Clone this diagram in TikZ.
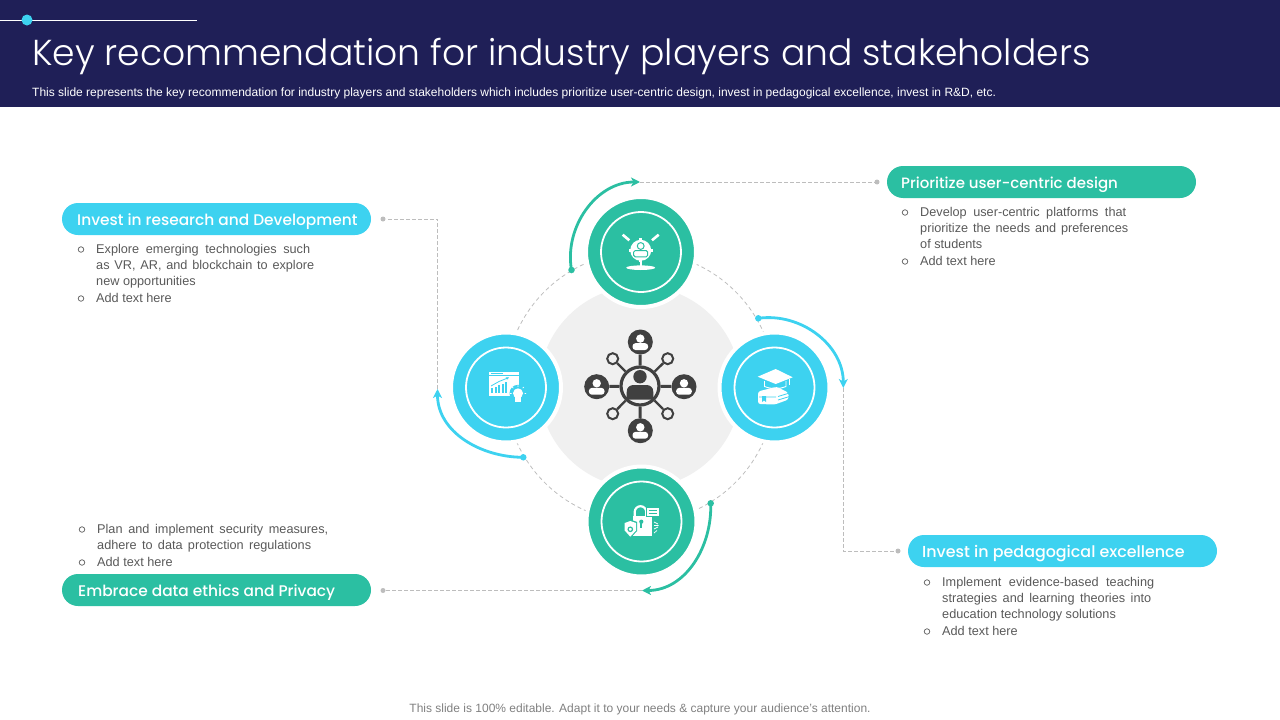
\documentclass[tikz,border=0pt]{standalone}
\usepackage{fontspec}
\setmainfont{Liberation Sans}
\newfontfamily\headfont{Poppins Light}
\newfontfamily\pillfont{Poppins Medium}
\usetikzlibrary{arrows.meta}
\definecolor{navy}{HTML}{1F1F57}
\definecolor{teal}{HTML}{2BBFA2}
\definecolor{sky}{HTML}{3DD2F0}
\definecolor{iconDark}{HTML}{404040}
\definecolor{bodyGray}{HTML}{595959}
\definecolor{hubGray}{HTML}{F0F0F0}
\definecolor{dashGray}{HTML}{BDBDBD}
\newcommand{\fitline}[2]{\makebox[#1pt][s]{#2}}
\newcommand{\satperson}[2]{%
  \fill[white] (#1,#2-3.4) circle (4.2);
  \fill[white,rounded corners=3pt] (#1-7.8,#2+8) rectangle (#1+7.8,#2+1.2);}
\tikzset{
  pill/.style={rounded corners=16pt,minimum width=309pt,minimum height=32pt,inner sep=0pt},
  pilltext/.style={anchor=west,inner sep=0pt,text=white},
  bigcircle/.style={circle,inner sep=0pt,minimum size=110pt,draw=white,line width=4pt},
  innerring/.style={circle,inner sep=0pt,minimum size=80pt,draw=white,line width=1.8pt},
  leader/.style={draw=dashGray,line width=0.8pt,dash pattern=on 4pt off 2pt},
  swoop/.style={line width=2.8pt,-{Stealth[length=9pt,width=9pt,inset=2.5pt]}},
  leaddot/.style={circle,fill=dashGray,inner sep=0pt,minimum size=5pt},
  swoopdot/.style={circle,inner sep=0pt,minimum size=6.5pt},
  itemtext/.style={anchor=north west,inner sep=0pt,text=bodyGray,align=left,font=\fontsize{12.7}{16.1}\selectfont},
  itemmark/.style={circle,draw=bodyGray,inner sep=0pt,minimum size=5.5pt,line width=0.7pt},
  sat/.style={circle,fill=iconDark,inner sep=0pt,minimum size=25pt},
  tip/.style={circle,fill=hubGray,draw=iconDark,line width=2pt,inner sep=0pt,minimum size=11pt}
}
\begin{document}
\begin{tikzpicture}[x=1pt,y=-1pt]
  \useasboundingbox (0,0) rectangle (1280,720);
  % header
  \fill[navy] (0,0) rectangle (1280,107);
  \draw[white,line width=1pt] (0,20) -- (197,20);
  \fill[sky] (27,20) circle (5.5);
  \node[anchor=base west,inner sep=0pt,text=white,font=\headfont\fontsize{36.1}{40}\selectfont] (title) at (32,65) {Key recommendation for industry players and stakeholders};
  \node[anchor=base west,inner sep=0pt,text=white,font=\fontsize{12}{14}\selectfont] (subtitle) at (32,96) {This slide represents the key recommendation for industry players and stakeholders which includes prioritize user-centric design, invest in pedagogical excellence, invest in R\&D, etc.};
  % ring
  \fill[hubGray] (640,387) circle (101);
  \draw[dashGray,line width=0.8pt,dash pattern=on 4pt off 3pt] (640,387) circle (135);
  % circles
  \node[bigcircle,fill=teal] (top) at (641,252) {};
  \node[bigcircle,fill=sky] (left) at (506,387.5) {};
  \node[bigcircle,fill=sky] (right) at (774.5,387.5) {};
  \node[bigcircle,fill=teal] (bottom) at (641.5,521.5) {};
  \node[innerring] at (top) {};
  \node[innerring] at (left) {};
  \node[innerring] at (right) {};
  \node[innerring] at (bottom) {};
  % pills
  \node[pill,fill=teal] (p1) at (1041.5,182) {};
  \node[pill,fill=sky] (p2) at (216.5,219) {};
  \node[pill,fill=sky] (p3) at (1062.5,551) {};
  \node[pill,fill=teal] (p4) at (216.5,590) {};
  \node[pilltext,font=\pillfont\fontsize{15}{18}\selectfont] (p1t) at (901,185) {Prioritize user-centric design};
  \node[pilltext,font=\pillfont\fontsize{15.4}{18}\selectfont] (p2t) at (77,221.5) {Invest in research and Development};
  \node[pilltext,font=\pillfont\fontsize{15.9}{18}\selectfont] (p3t) at (922,554) {Invest in pedagogical excellence};
  \node[pilltext,font=\pillfont\fontsize{15.4}{18}\selectfont] (p4t) at (78,593) {Embrace data ethics and Privacy};
  % lists
  \node[itemmark] (m1a) at (905,212.5) {};
  \node[itemtext] (t1a) at (920,207) {\fitline{206}{Develop user-centric platforms that}\\\fitline{208}{prioritize the needs and preferences}\\of students};
  \node[itemmark] (m1b) at (905,261.5) {};
  \node[itemtext] (t1b) at (920,256) {Add text here};
  \node[itemmark] (m2a) at (81,249.5) {};
  \node[itemtext] (t2a) at (96,244) {\fitline{214}{Explore emerging technologies such}\\\fitline{218}{as VR, AR, and blockchain to explore}\\new opportunities};
  \node[itemmark] (m2b) at (81,298.5) {};
  \node[itemtext] (t2b) at (96,293) {Add text here};
  \node[itemmark] (m3a) at (927,582.5) {};
  \node[itemtext] (t3a) at (942,577) {\fitline{212}{Implement evidence-based teaching}\\\fitline{209}{strategies and learning theories into}\\education technology solutions};
  \node[itemmark] (m3b) at (927,631.5) {};
  \node[itemtext] (t3b) at (942,626) {Add text here};
  \node[itemmark] (m4a) at (82,529.5) {};
  \node[itemtext] (t4a) at (97,524) {\fitline{231}{Plan and implement security measures,}\\\fitline{214}{adhere to data protection regulations}};
  \node[itemmark] (m4b) at (82,562.5) {};
  \node[itemtext] (t4b) at (97,557) {Add text here};
  % swoops
  \node[swoopdot,fill=teal] (d1) at (571.5,270) {};
  \coordinate (a1) at (640,182);
  \draw[swoop,teal] (d1.center) to[out=100,in=180] (a1);
  \node[swoopdot,fill=sky] (d2) at (758.3,318.3) {};
  \coordinate (a2) at (843.3,388);
  \draw[swoop,sky] (d2.center) to[out=8,in=90] (a2);
  \node[swoopdot,fill=teal] (d3) at (710.7,503.3) {};
  \coordinate (a3) at (642,590.5);
  \draw[swoop,teal] (d3.center) to[out=-88,in=0] (a3);
  \node[swoopdot,fill=sky] (d4) at (523.3,457.3) {};
  \coordinate (a4) at (437.5,389);
  \draw[swoop,sky] (d4.center) to[out=180,in=-90] (a4);
  % leaders
  \node[leaddot] (l1) at (877,182) {};
  \node[leaddot] (l2) at (383,219) {};
  \node[leaddot] (l3) at (898,551) {};
  \node[leaddot] (l4) at (383,590.5) {};
  \draw[leader] (a1) -- (l1);
  \draw[leader] (a2) |- (l3);
  \draw[leader] (a3) -- (l4);
  \draw[leader] (a4) |- (l2);
  % hub icon
  \node[circle,draw=iconDark,line width=3.2pt,fill=hubGray,inner sep=0pt,minimum size=38pt] (hub) at (640,386) {};
  \node[sat] (sn) at (640.3,342) {};
  \node[sat] (sw) at (596.7,386.7) {};
  \node[sat] (se) at (684,386.7) {};
  \node[sat] (ss) at (640.3,430.7) {};
  \node[tip] (tnw) at (612.7,358.7) {};
  \node[tip] (tne) at (667.7,358.7) {};
  \node[tip] (tsw) at (612.7,413.7) {};
  \node[tip] (tse) at (667.7,413.7) {};
  \draw[iconDark,line width=3pt] (hub) -- (sn);
  \draw[iconDark,line width=3pt] (hub) -- (sw);
  \draw[iconDark,line width=3pt] (hub) -- (se);
  \draw[iconDark,line width=3pt] (hub) -- (ss);
  \draw[iconDark,line width=2.4pt] (hub) -- (tnw);
  \draw[iconDark,line width=2.4pt] (hub) -- (tne);
  \draw[iconDark,line width=2.4pt] (hub) -- (tsw);
  \draw[iconDark,line width=2.4pt] (hub) -- (tse);
  \fill[iconDark] (640,376.7) circle (6.7);
  \fill[iconDark] (626.7,399.5) -- (626.7,392) .. controls (626.7,387) and (630,385) .. (634,385) -- (646,385) .. controls (650,385) and (653.3,387) .. (653.3,392) -- (653.3,399.5) -- cycle;
  \satperson{640.3}{342}
  \satperson{596.7}{386.7}
  \satperson{684}{386.7}
  \satperson{640.3}{430.7}
  % top icon
  \draw[white,line width=2.6pt] (622.7,234.7) -- (629.3,240.3);
  \draw[white,line width=2.6pt] (658.7,234.7) -- (652,240.3);
  \fill[white] (640.7,250.3) circle (10.5);
  \fill[white] (639.2,238) rectangle (642.2,262);
  \fill[white] (628.5,248.8) rectangle (652.9,251.8);
  \fill[white] (640.7,267.7) ellipse (14.5 and 2.3);
  \fill[white] (639.9,260) rectangle (641.5,267);
  \draw[teal,line width=1pt] (640.7,246) circle (3.4);
  \draw[teal,line width=1pt,rounded corners=1.5pt] (633.7,250.5) rectangle (647.7,256.8);
  % left icon
  \fill[white] (489,371.7) rectangle (518.7,396);
  \draw[sky,line width=0.7pt] (489,375.5) -- (518.7,375.5);
  \fill[sky] (491,373) rectangle (503,374.2);
  \fill[sky] (491,388) rectangle (493.2,393);
  \fill[sky] (494.5,386.5) rectangle (496.7,393);
  \fill[sky] (498,385) rectangle (500.2,393);
  \fill[sky] (501.5,383.5) rectangle (503.7,393);
  \fill[sky] (505,382) rectangle (507.2,393);
  \draw[sky,line width=0.8pt,-{Stealth[length=3pt,width=3pt]}] (491,386) -- (499,381.5) -- (509,377.5);
  \fill[sky] (518,393.3) circle (8.5);
  \fill[white] (518,393.3) circle (5);
  \fill[white] (515.3,397) rectangle (520.7,402);
  \draw[white,line width=0.7pt] (526,393.5) -- (524.5,393.5) (523.8,387) -- (522.7,388.2) (518,385.3) -- (518,386.8) (510,393.5) -- (511.5,393.5) (512.2,387) -- (513.3,388.2);
  % right icon
  \fill[white] (757.7,376.7) -- (775.7,369) -- (792.7,377.3) -- (775.7,384) -- cycle;
  \draw[white,line width=0.9pt] (764.5,381) -- (764.5,386.5) to[bend right=20] (786,386.5) -- (786,381);
  \draw[white,line width=0.8pt] (789.5,379) -- (789.5,385);
  \fill[white,rounded corners=2.5pt] (758,391.5) -- (776.7,386.7) -- (788.5,392.7) -- (788.5,399.5) -- (775,404.5) -- (758,404) -- cycle;
  \draw[sky,line width=0.8pt] (778,396.5) -- (789.5,393) (778,400) -- (789.5,396.5) (759,397) -- (776,397);
  \fill[sky] (762,396) -- (766,396) -- (766,402) -- (764,400.5) -- (762,402) -- cycle;
  % bottom icon
  \draw[white,line width=2.2pt] (634.7,516) -- (634.7,512) arc (180:360:5.8) -- (646.3,516);
  \fill[white] (632.7,515.7) rectangle (652,535.7);
  \fill[teal] (641.3,521.7) circle (2.1);
  \fill[teal] (640.3,521.7) rectangle (642.3,528);
  \draw[teal,fill=white,line width=0.8pt] (646.6,507.3) rectangle (659,516.8);
  \draw[teal,line width=0.8pt] (648.5,510.5) -- (657,510.5) (648.5,513.5) -- (657,513.5);
  \fill[teal] (623.5,522) -- (630.3,519.5) -- (637.2,522) -- (637.2,531) -- (630.3,538) -- (623.5,531) -- cycle;
  \fill[white] (624.7,523) -- (630.3,521) -- (636,523) -- (636,530.5) -- (630.3,536.7) -- (624.7,530.5) -- cycle;
  \draw[teal,line width=1.2pt] (630.3,529.3) circle (2.2);
  \draw[white,line width=0.7pt] (654,522) -- (658,524) (654,525.5) -- (658.5,525.5) (654,529) -- (658,527) (654,533) -- (657,530.5);
  % footer
  \node[text=gray,font=\fontsize{12}{14}\selectfont,inner sep=0pt] (foot) at (640,709.5) {This slide is 100\% editable. Adapt it to your needs \& capture your audience's attention.};
\end{tikzpicture}
\end{document}
